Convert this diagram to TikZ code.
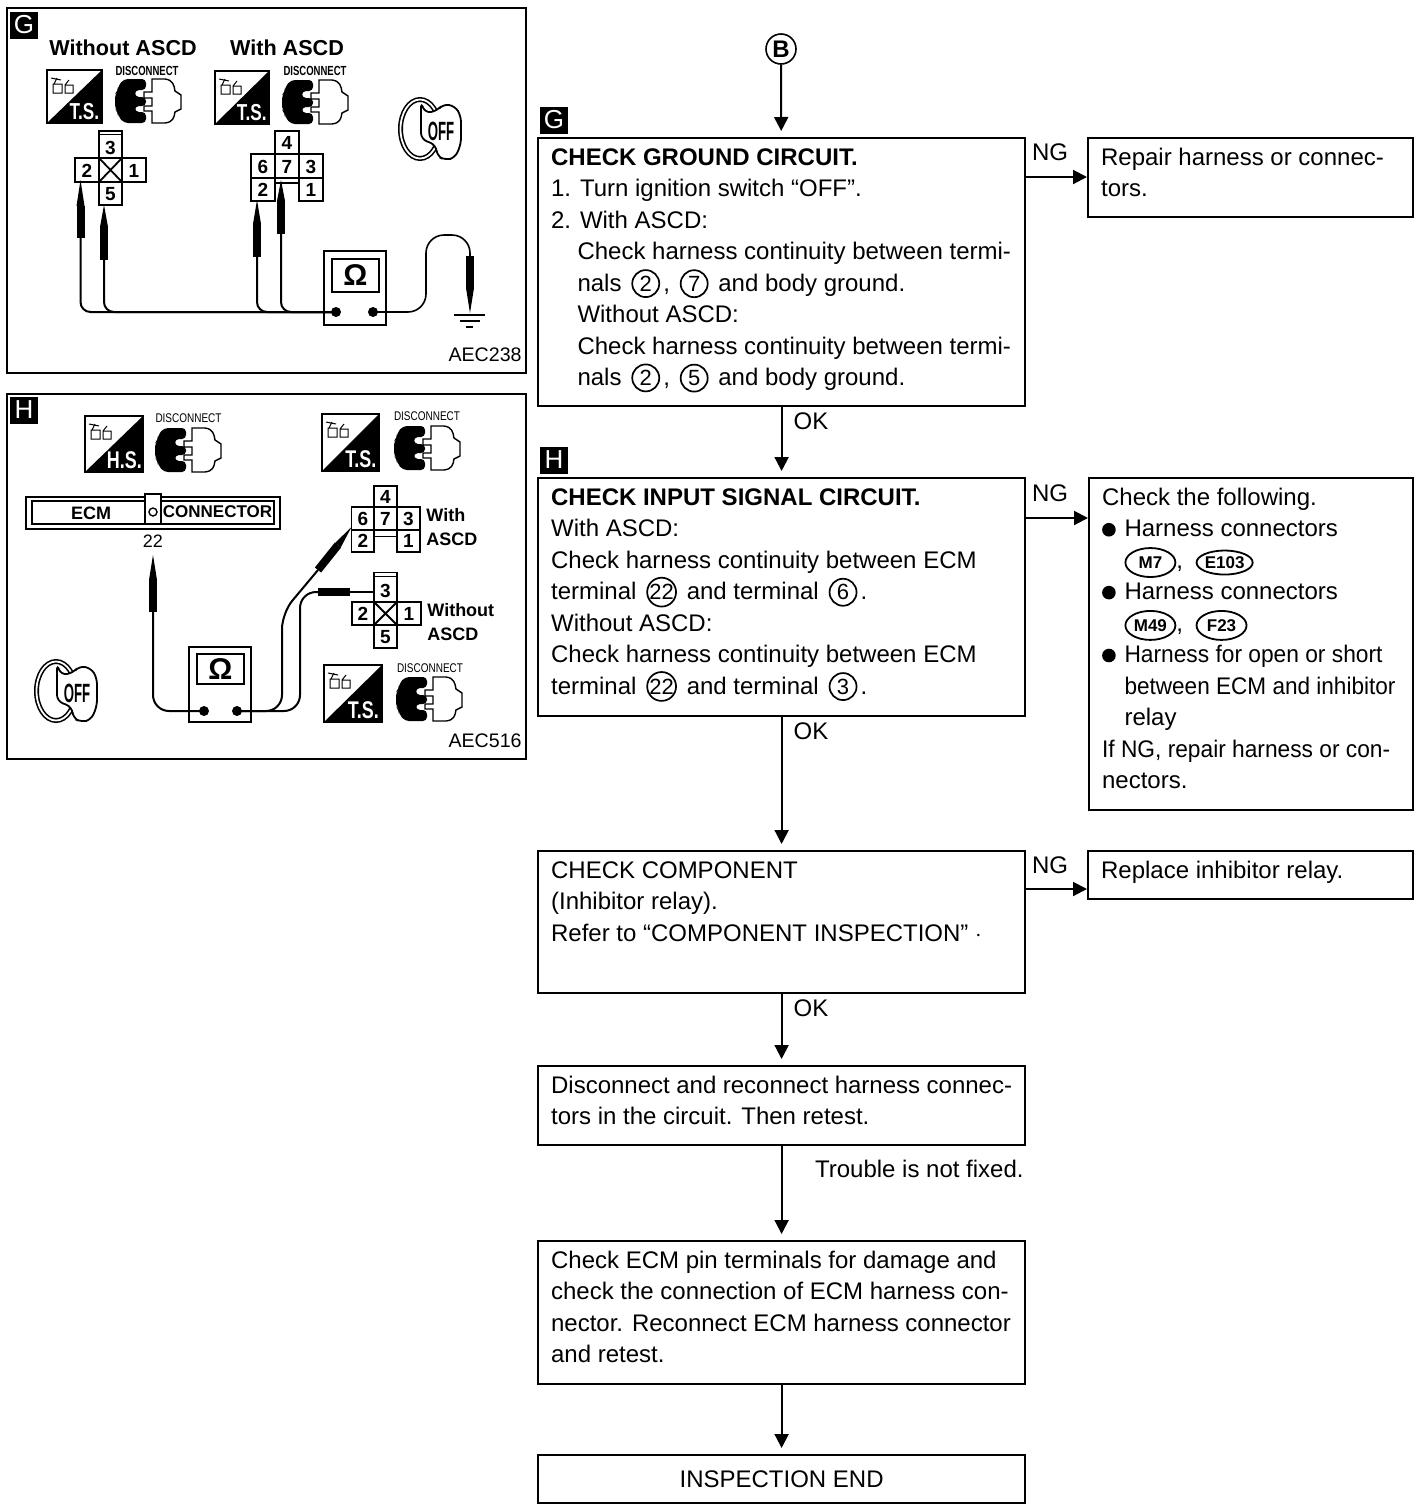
\documentclass[tikz,border=0pt]{standalone}
\usepackage{fontspec}
\usepackage{graphicx}
\setmainfont{Liberation Sans}
\usetikzlibrary{arrows.meta,calc,shapes.geometric}
\definecolor{ink}{HTML}{000000}
\tikzset{
  panel/.style={draw=ink,line width=.9pt,fill=white,inner sep=0pt,anchor=north west},
  flowbox/.style={draw=ink,line width=1.1pt,inner xsep=6.5pt,inner ysep=0pt,anchor=north west,fill=white},
  arr/.style={draw=ink,line width=1pt,-{Triangle[length=7pt,width=7pt]}},
  gaparr/.style={arr,shorten >=3pt},
  lab/.style={inner sep=0pt,font=\fontsize{12}{14}\selectfont},
  hd/.style={inner sep=0pt,font=\fontsize{10.8}{12}\selectfont\bfseries},
  code/.style={inner sep=0pt,anchor=east,font=\fontsize{9.8}{12}\selectfont},
  tagbox/.style={fill=ink,text=white,inner sep=0pt,minimum width=14pt,minimum height=13.5pt,font=\fontsize{13}{14}\selectfont},
  cellnum/.style={inner sep=0pt,font=\fontsize{9.5}{11}\selectfont\bfseries},
  cell/.style={draw=ink,line width=.9pt},
  wire/.style={draw=ink,line width=1pt,rounded corners=5pt},
  body/.style={draw=ink,line width=4pt},
  thin/.style={draw=ink,line width=.6pt}
}
\newcommand\cn[1]{\hspace{1.6pt}\tikz[baseline=(c.base)]\node[circle,draw=ink,line width=.85pt,inner sep=0pt,minimum size=13.5pt,font=\fontsize{11}{12}\selectfont] (c) {#1};\hspace{1.6pt}}
\newcommand\ov[2][14.5pt]{\tikz[baseline=(c.base)]\node[ellipse,draw=ink,line width=.9pt,inner sep=0pt,minimum height=#1,minimum width=25pt,font=\fontsize{8.5}{10}\selectfont\bfseries] (c) {#2};}
\newcommand\bul{\makebox[11.2pt][l]{\tikz[baseline=-3.6pt]\fill[ink] (0,0) circle (3.4pt);}}
\newcommand\fitw[2]{\resizebox{#1}{\height}{#2}}
\newcommand\ftx[3]{\parbox[c][#2][t]{#1}{\fontsize{12}{15.72}\selectfont\raggedright\baselineskip=15.72pt\lineskiplimit=-20pt\rule{0pt}{13.7pt}#3}}
\newcommand\tsicon[7]{% name x y w h label labelsize
  \begin{scope}[shift={(#2,#3)}]
    \draw[line width=.8pt,fill=white] (0,0) rectangle (#4,#5);
    \fill[ink] (#4,0) -- (#4,#5) -- (0,#5) -- cycle;
    \draw[line width=.5pt] (6,14) rectangle (15,23) (18,15) rectangle (26,23) (7,14) -- (10,8) (4,8) -- (14,10) (18,15) -- (22,10);
    \node[inner sep=0pt,text=white,font=\fontsize{#7}{12}\selectfont\bfseries] (#1) at (#4*.68,#5*.79) {\scalebox{.78}[1.05]{#6}};
  \end{scope}}
\newcommand\discon[4]{% name x y bold?
  \begin{scope}[shift={(#2,#3)}]
    \fill[ink,rounded corners=2pt] (31,0) -- (9,0) -- (3,7) -- (3,12) -- (0,15) -- (0,30) -- (3,33) -- (3,37) -- (9,44) -- (31,44) -- (31,33) -- (20,33) -- (20,27) -- (31,27) -- (31,18) -- (20,18) -- (20,11) -- (31,11) -- cycle;
    \draw[ink,line width=.7pt,fill=white] (37,0) -- (50,0) .. controls (58,1) and (59,6) .. (60,12) -- (66,16) -- (66,30) -- (60,33) .. controls (59,39) and (58,43) .. (50,44) -- (37,44) -- (37,32) -- (29,32) -- (29,27) -- (37,27) -- (37,19) -- (29,19) -- (29,13) -- (37,13) -- cycle;
  \end{scope}}
\newcommand\offkey[3]{% name x y
  \begin{scope}[shift={(#2,#3)}]
    \draw[ink,line width=.8pt,double=white,double distance=.9pt] (21,31) ellipse (19.5 and 29.5);
    \draw[ink,line width=.9pt,fill=white,rounded corners=3pt] (22,4) -- (22,41) -- (37,47) -- (38,58) -- (46,62) -- (56,60) -- (62,46) -- (62,18) -- (56,8) -- (44,6) -- (38,13) -- (26,15) -- cycle;
    \node[inner sep=0pt,font=\fontsize{12}{14}\selectfont\bfseries] (#1) at (42,33) {\scalebox{.55}[1.1]{OFF}};
  \end{scope}}
\newcommand\meter[9]{% name x1 y1 x2 y2 dx1 dy1 dx2 dy2
  \draw[ink,line width=1pt,fill=white] (#2,#3) rectangle (#4,#5);
  \draw[ink,line width=1.1pt] (#6,#7) rectangle (#8,#9);
  \node[inner sep=0pt,font=\fontsize{15}{18}\selectfont\bfseries] (#1) at ($(#6,#7)!.5!(#8,#9)$) {Ω};}
\begin{document}
\begin{tikzpicture}[x=.5pt,y=-.5pt]
\useasboundingbox (0,0) rectangle (1424,1510);
\fill[white] (0,0) rectangle (1424,1510);
%% panel G
\node[panel,minimum width=259.5pt,minimum height=182.5pt] (pg) at (6,7) {};
\node[tagbox] (tg1) at (24,25) {G};
\node[hd] (g-wo) at (123,48) {Without ASCD};
\node[hd] (g-w) at (287,48) {With ASCD};
\tsicon{ts1}{47}{70}{55}{53}{T.S.}{11}
\node[inner sep=0pt] (dc1) at (147,71) {\resizebox{31.5pt}{4.6pt}{\bfseries DISCONNECT}};
\discon{d1}{115}{79}{}
\tsicon{ts2}{215}{71}{54}{53}{T.S.}{11}
\node[inner sep=0pt] (dc2) at (315,71) {\resizebox{31.5pt}{4.6pt}{\bfseries DISCONNECT}};
\discon{d2}{282}{80}{}
\offkey{off1}{399}{98}
% connector without ASCD
\draw[cell] (99,131) rectangle (122,158) (99,134.5) -- (122,134.5);
\draw[cell] (75,158) rectangle (146,182) (99,158) -- (99,182) (122,158) -- (122,182);
\draw[cell] (99,158) -- (122,182) (122,158) -- (99,182);
\draw[cell] (99,182) rectangle (122,205);
\node[cellnum] (g3) at (110.5,148) {3};
\node[cellnum] (g2) at (87,171) {2};
\node[cellnum] (g1) at (134,171) {1};
\node[cellnum] (g5) at (110.5,194) {5};
% connector with ASCD
\draw[cell] (275,131) rectangle (299,154);
\draw[cell] (251,154) rectangle (323,178) (275,154) -- (275,201) (299,154) -- (299,201);
\draw[cell] (251,178) rectangle (275,201) (299,178) rectangle (323,201) (275,183) -- (299,183);
\node[cellnum] (h4) at (287,143) {4};
\node[cellnum] (h6) at (263,167) {6};
\node[cellnum] (h7) at (287,167) {7};
\node[cellnum] (h3) at (311,167) {3};
\node[cellnum] (h2) at (263,190) {2};
\node[cellnum] (h1) at (311,190) {1};
% probes
\fill[ink] (80.5,180) -- (76.5,206) -- (84.5,206) -- cycle;
\draw[body] (80.5,206) -- (80.5,238);
\fill[ink] (104,205) -- (100,227) -- (108,227) -- cycle;
\draw[body] (104,227) -- (104,260);
\fill[ink] (257,200) -- (253,224) -- (261,224) -- cycle;
\draw[body] (257,224) -- (257,257);
\fill[ink] (281,180) -- (277,201) -- (285,201) -- cycle;
\draw[body] (281,201) -- (281,234);
\meter{om1}{324}{251}{386}{325}{332}{259}{379}{292}
\coordinate (gm1) at (336,312);
\coordinate (gm2) at (373,312);
\draw[wire] (80.5,238) -- (80.5,312) -- (gm1);
\draw[wire] (104,260) -- (104,312) -- (gm1);
\draw[wire] (257,257) -- (257,312) -- (gm1);
\draw[wire] (281,234) -- (281,312) -- (gm1);
\draw[wire,line width=.8pt,rounded corners=9pt] (gm2) -- (426,312) -- (426,235) -- (470,235) -- (470,256);
\fill[ink] (gm1) circle (2.5pt) (gm2) circle (2.5pt);
\draw[body] (470,256) -- (470,288);
\fill[ink] (466,288) -- (474,288) -- (470,313) -- cycle;
\draw[ink,line width=1pt] (454,315) -- (485,315) (460,321) -- (480,321);
\draw[ink,line width=1.3pt] (466,327) -- (473,327);
\node[code] (c238) at (522,355) {AEC238};
%% panel H
\node[panel,minimum width=259.5pt,minimum height=182.5pt] (ph) at (6,393) {};
\node[tagbox] (th1) at (24,410) {H};
\tsicon{ts3}{85}{416}{58}{56}{H.S.}{11.5}
\node[inner sep=0pt] (dc3) at (188.5,418) {\resizebox{33pt}{4.4pt}{DISCONNECT}};
\discon{d3}{155}{428}{}
\tsicon{ts4}{322}{414}{57}{57}{T.S.}{11.5}
\node[inner sep=0pt] (dc4) at (427,416) {\resizebox{33pt}{4.4pt}{DISCONNECT}};
\discon{d4}{394}{426}{}
\tsicon{ts5}{324}{665}{58}{57}{T.S.}{11.5}
\node[inner sep=0pt] (dc5) at (430,668) {\resizebox{33pt}{4.4pt}{DISCONNECT}};
\discon{d5}{396}{677}{}
\offkey{off2}{35}{660}
% ECM
\draw[ink,line width=.9pt] (26,497) rectangle (280,529);
\draw[ink,line width=.9pt] (32,501) rectangle (145,524) (161,501) rectangle (274,524);
\draw[ink,line width=.9pt,fill=white] (145,494) rectangle (161,524);
\draw[ink,line width=.7pt] (153,512) circle (2pt);
\node[inner sep=0pt,font=\fontsize{9}{10}\selectfont\bfseries] (ecm) at (91,513) {ECM};
\node[inner sep=0pt,font=\fontsize{8.5}{10}\selectfont\bfseries] (conn) at (217.5,512) {CONNECTOR};
\node[cellnum,font=\fontsize{9}{10}\selectfont] (n22) at (153,541) {22};
% connector with ASCD
\draw[cell] (374,486) rectangle (397,507);
\draw[cell] (351.5,507) rectangle (420,530) (374,507) -- (374,530) (397,507) -- (397,530);
\draw[cell] (351.5,530) rectangle (374,552) (397,530) rectangle (420,552) (374,536.5) -- (397,536.5);
\node[cellnum] (k4) at (385.5,497) {4};
\node[cellnum] (k6) at (363,519) {6};
\node[cellnum] (k7) at (385.5,519) {7};
\node[cellnum] (k3) at (408.5,519) {3};
\node[cellnum] (k2) at (363,541) {2};
\node[cellnum] (k1) at (408.5,541) {1};
\node[inner sep=0pt,anchor=west,font=\fontsize{9}{10}\selectfont\bfseries] (wi) at (426,515) {With};
\node[inner sep=0pt,anchor=west,font=\fontsize{9}{10}\selectfont\bfseries] (wi2) at (426,539) {ASCD};
% connector without
\draw[cell] (374,572.5) rectangle (397,602) (374,576.5) -- (397,576.5);
\draw[cell] (352,602) rectangle (421,625) (374,602) -- (374,625) (397,602) -- (397,625);
\draw[cell] (374,602) -- (397,625) (397,602) -- (374,625);
\draw[cell] (374,625) rectangle (397,648);
\node[cellnum] (m3) at (385.5,591) {3};
\node[cellnum] (m2) at (363,614) {2};
\node[cellnum] (m1) at (409,614) {1};
\node[cellnum] (m5) at (385.5,637) {5};
\node[inner sep=0pt,anchor=west,font=\fontsize{9}{10}\selectfont\bfseries] (wo) at (427,610) {Without};
\node[inner sep=0pt,anchor=west,font=\fontsize{9}{10}\selectfont\bfseries] (wo2) at (427,634) {ASCD};
% meter + probes
\meter{om2}{189}{647}{251}{722}{197}{654}{244}{684}
\coordinate (hm1) at (204,711);
\coordinate (hm2) at (237,711);
\fill[ink] (153,555) -- (149,580) -- (157,580) -- cycle;
\draw[body] (153,580) -- (153,612);
\draw[wire,rounded corners=8pt] (153,612) -- (153,711) -- (hm1);
\fill[ink] (hm1) circle (2.5pt) (hm2) circle (2.5pt);
\draw[wire,rounded corners=8pt] (hm2) -- (282,711) -- (282,613) -- (318,570);
\draw[body] (318,570) -- (338,545);
\fill[ink] (351.5,527) -- (335,543) -- (341,547) -- cycle;
\draw[wire,rounded corners=8pt] (hm2) -- (300,711) -- (300,592) -- (318,592);
\draw[body] (318,592) -- (350,592);
\draw[ink,line width=.8pt] (350,592) -- (375,592);
\node[code] (c516) at (522,741) {AEC516};
%% flow
\node[circle,draw=ink,line width=.8pt,inner sep=0pt,minimum size=15pt,font=\fontsize{12}{14}\selectfont\bfseries] (bc) at (781,49) {B};
\node[tagbox] (tg2) at (554,120) {G};
\node[tagbox] (th2) at (554,460) {H};
\node[flowbox] (bg) at (537,137) {\ftx{230.5pt}{134pt}{\textbf{CHECK GROUND CIRCUIT.}\\
1. Turn ignition switch “OFF”.\\
2. With ASCD:\\
\hspace*{13.2pt}Check harness continuity between termi-\\
\hspace*{13.2pt}nals \cn{2}, \cn{7} and body ground.\\
\hspace*{13.2pt}Without ASCD:\\
\hspace*{13.2pt}Check harness continuity between termi-\\
\hspace*{13.2pt}nals \cn{2}, \cn{5} and body ground.}};
\node[flowbox] (br1) at (1087,137) {\ftx{149.5pt}{39.5pt}{Repair harness or connec-\\tors.}};
\node[flowbox] (bh) at (537,477) {\ftx{230.5pt}{119pt}{\textbf{CHECK INPUT SIGNAL CIRCUIT.}\\
With ASCD:\\
Check harness continuity between ECM\\
terminal \cn{22} and terminal \cn{6}.\\
Without ASCD:\\
Check harness continuity between ECM\\
terminal \cn{22} and terminal \cn{3}.}};
\node[flowbox] (br2) at (1088,477) {\ftx{149pt}{166pt}{Check the following.\\
\bul Harness connectors\\
\hspace*{11.2pt}\ov{M7},\hspace{3pt} \ov[12pt]{E103}\\
\bul Harness connectors\\
\hspace*{11.2pt}\ov{M49},\hspace{3pt} \ov{F23}\\
\bul \fitw{129pt}{Harness for open or short}\\
\hspace*{11.2pt}\fitw{135.5pt}{between ECM and inhibitor}\\
\hspace*{11.2pt}relay\\
\fitw{144pt}{If NG, repair harness or con-}\\
nectors.}};
\node[flowbox] (bc1) at (537,850) {\ftx{230.5pt}{71pt}{CHECK COMPONENT\\(Inhibitor relay).\\Refer to “COMPONENT INSPECTION” $\cdot$}};
\node[flowbox] (br3) at (1087,850) {\ftx{149.5pt}{24pt}{Replace inhibitor relay.}};
\node[flowbox] (bd) at (537,1065) {\ftx{230.5pt}{39.5pt}{Disconnect and reconnect harness connec-\\tors in the circuit. Then retest.}};
\node[flowbox] (be) at (537,1240) {\ftx{230.5pt}{71.5pt}{Check ECM pin terminals for damage and\\check the connection of ECM harness con-\\nector. Reconnect ECM harness connector\\and retest.}};
\node[draw=ink,line width=1.1pt,inner sep=0pt,anchor=north west,minimum width=243.5pt,minimum height=24pt,lab] (bf) at (537,1454) {INSPECTION END};
\draw[gaparr] (bc) -- (bg);
\draw[gaparr] (bg) -- (bh);
\draw[gaparr] (bh) -- (bc1);
\draw[gaparr] (bc1) -- (bd);
\draw[gaparr] (bd) -- (be);
\draw[gaparr] (be) -- (bf);
\draw[arr] ($(bg.north east)+(0,40)$) -- ($(br1.north west)+(0,40)$);
\draw[arr] ($(bh.north east)+(0,41)$) -- ($(br2.north west)+(0,41)$);
\draw[arr] ($(bc1.north east)+(0,39)$) -- ($(br3.north west)+(0,39)$);
\node[lab] (ng1) at (1050,152) {NG};
\node[lab] (ng2) at (1050,493) {NG};
\node[lab] (ng3) at (1050,865) {NG};
\node[lab] (ok1) at (811,421) {OK};
\node[lab] (ok2) at (811,731) {OK};
\node[lab] (ok3) at (811,1008) {OK};
\node[lab,anchor=east] (tr) at (1024,1169) {Trouble is not fixed.};
\end{tikzpicture}
\end{document}
